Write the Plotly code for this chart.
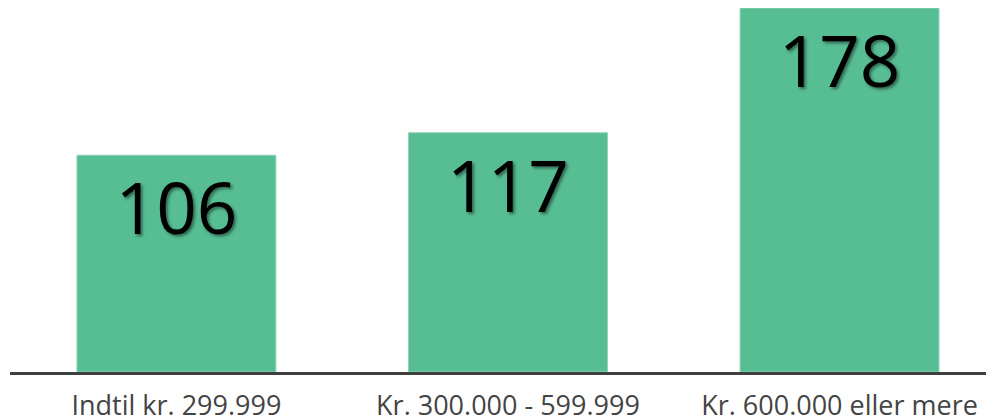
import plotly.graph_objects as go

categories = ["Indtil kr. 299.999", "Kr. 300.000 - 599.999", "Kr. 600.000 eller mere"]
values = [106, 117, 178]

BAR_COLOR = "#57BD93"
EDGE_COLOR = "#8FD4B6"
AXIS_COLOR = "#3F3F3F"

fig = go.Figure()

fig.add_trace(go.Bar(
    x=categories,
    y=values,
    width=0.6,
    marker=dict(color=BAR_COLOR, line=dict(color=EDGE_COLOR, width=1)),
    text=[str(v) for v in values],
    textposition="inside",
    insidetextanchor="end",
    constraintext="none",
    textfont=dict(
        family="Open Sans",
        size=71,
        color="#000000",
        shadow="2px 2px 3px rgba(0,0,0,0.45)",
    ),
    hoverinfo="skip",
))

# page body adds an 8px offset, so margins are trimmed to compensate
fig.update_layout(
    width=994,
    height=418,
    paper_bgcolor="white",
    plot_bgcolor="white",
    showlegend=False,
    margin=dict(l=2, r=0, t=0, b=54),
    font=dict(family="Open Sans", color="#444444"),
    xaxis=dict(
        range=[-0.502, 2.490],
        showline=True,
        linecolor=AXIS_COLOR,
        linewidth=3,
        showgrid=False,
        ticks="",
        automargin=False,
        ticklabelstandoff=8,
        tickfont=dict(family="Open Sans", size=27, color="#444444"),
        fixedrange=True,
    ),
    yaxis=dict(
        range=[0, 178],
        visible=False,
        showgrid=False,
        zeroline=False,
        fixedrange=True,
    ),
)

fig.write_html("out.html")
